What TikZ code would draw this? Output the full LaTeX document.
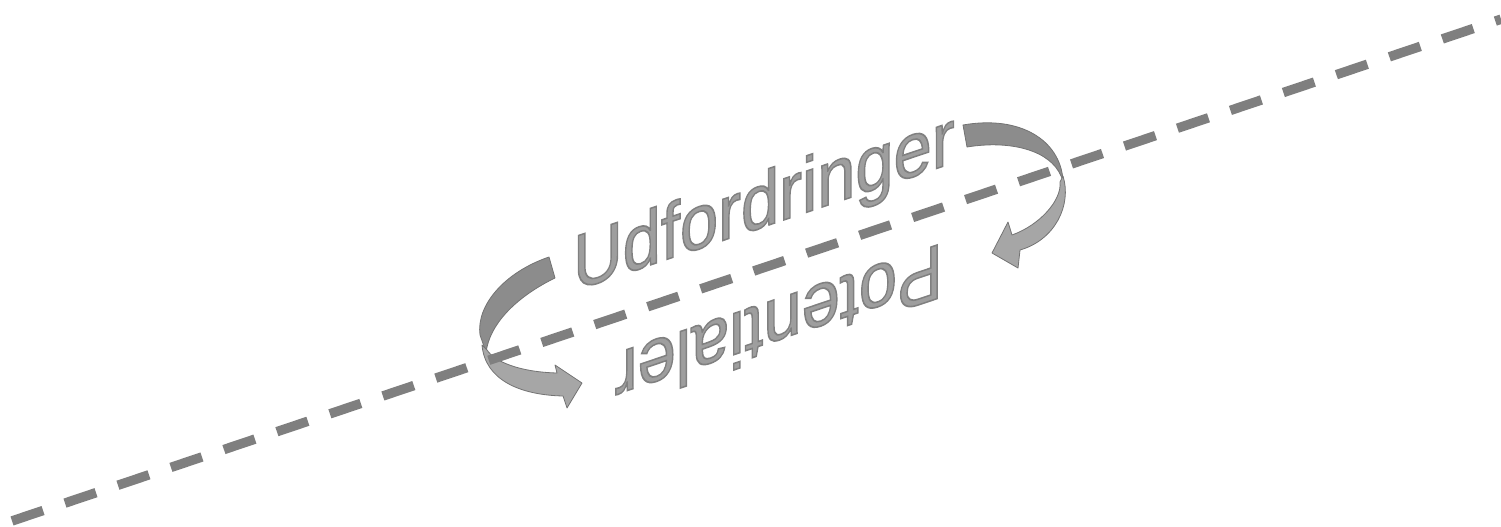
\documentclass[tikz,border=0pt]{standalone}
\usepackage{fontspec}
\setmainfont{Liberation Sans}
\usepackage{xcolor}
\usepackage{tikz}
\usetikzlibrary{calc}
\definecolor{dashgray}{HTML}{7F7F7F}
\definecolor{backgray}{HTML}{8C8C8C}
\definecolor{frontgray}{HTML}{A6A6A6}
\definecolor{rimgray}{HTML}{737373}
\definecolor{wordgray}{HTML}{9E9E9E}
% letters filled, then stroked with a darker rim
\newcommand\wordrim{\special{pdf:literal direct 2 Tr 1.6 w 0.5 G}}
\tikzset{
  dashline/.style={draw=dashgray,line width=9.5pt,dash pattern=on 32.7pt off 23.2pt,dash phase=43.2pt},
  backband/.style={fill=backgray,draw=rimgray,line width=0.8pt,line join=round},
  frontband/.style={fill=frontgray,draw=rimgray,line width=0.8pt,line join=round},
  word/.style={inner sep=0pt,anchor=base west,text=wordgray,font=\fontsize{78}{78}\selectfont,yslant=0.337,xscale=0.88},
}

\begin{document}
\begin{tikzpicture}[x=1pt,y=-1pt]
\clip (0,0) rectangle (1501,527);
% left turn
\draw[backband] (549,257) .. controls (505,272) and (476,305) .. (480,335) -- (486,352)
  -- (487,347) .. controls (493,320) and (520,295) .. (555,278) -- cycle;
\draw[frontband] (482,345) .. controls (485,380) and (520,395) .. (563,396) -- (567,408) -- (582,383)
  -- (555,365) -- (557,373) .. controls (520,372) and (495,362) .. (487,350) -- cycle;
% right turn
\draw[backband] (963,125) .. controls (1020,115) and (1060,140) .. (1063,180)
  -- (1061,176) .. controls (1050,150) and (1010,140) .. (967,147) -- cycle;
\draw[frontband] (1063,176) .. controls (1072,205) and (1055,240) .. (1020,250) -- (1018,268) -- (992,253)
  -- (1008,222) -- (1012,235) .. controls (1040,225) and (1062,200) .. (1060,182) -- cycle;
% words
\node[word] (udf) at (573,291) {\wordrim Udfordringer\special{pdf:literal direct 0 Tr}};
\node[word,rotate=180] (pot) at (943,243) {\wordrim Potentialer\special{pdf:literal direct 0 Tr}};
% divider
\coordinate (lo) at (0,525);
\coordinate (hi) at (1501,19.2);
\draw[dashline] (lo) -- (hi);
\end{tikzpicture}
\end{document}
